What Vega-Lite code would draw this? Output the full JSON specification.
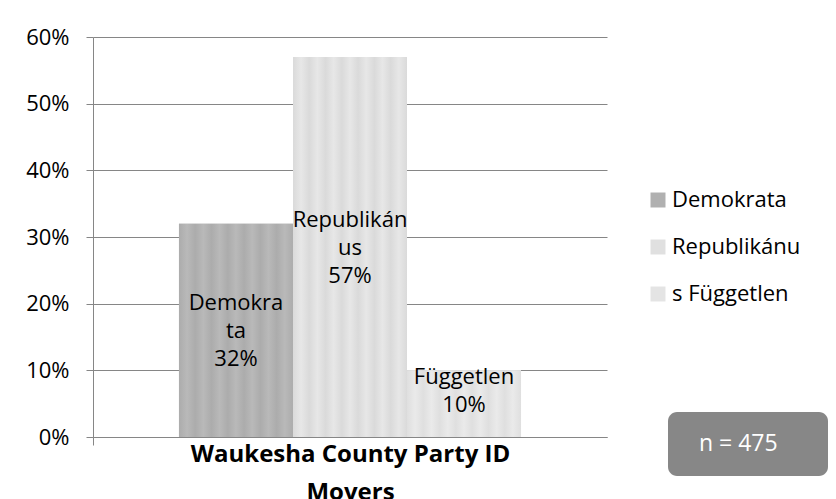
{
  "$schema": "https://vega.github.io/schema/vega-lite/v6.json",
  "width": 514,
  "height": 400,
  "autosize": {"type": "none"},
  "padding": {"left": 93, "top": 37, "right": 229, "bottom": 62},
  "background": "white",
  "config": {
    "font": "Open Sans",
    "view": {"stroke": null}
  },
  "datasets": {
    "parties": [
      {"group": "Waukesha County Party ID Movers", "party": "Demokrata", "wrapped": "Demokra\nta", "value": 0.32},
      {"group": "Waukesha County Party ID Movers", "party": "Republikánus", "wrapped": "Republikán\nus", "value": 0.57},
      {"group": "Waukesha County Party ID Movers", "party": "Független", "wrapped": "Független", "value": 0.10}
    ],
    "note": [
      {"note": "n = 475"}
    ]
  },
  "layer": [
    {
      "data": {"name": "parties"},
      "mark": {"type": "bar"},
      "encoding": {
        "x": {
          "field": "group", "type": "nominal",
          "scale": {"paddingInner": 0, "paddingOuter": 0},
          "axis": {
            "labels": false, "ticks": true, "tickSize": 8, "bandPosition": 0,
            "domainColor": "#868686", "tickColor": "#868686",
            "title": ["Waukesha County Party ID", "Movers"],
            "titleFontSize": 24, "titleFontWeight": "bold", "titleColor": "black",
            "titleLineHeight": 38, "titlePadding": -3
          }
        },
        "xOffset": {
          "field": "party", "type": "nominal",
          "sort": ["Demokrata", "Republikánus", "Független"],
          "scale": {"domain": ["Demokrata", "Republikánus", "Független"], "paddingInner": 0, "paddingOuter": 0.754}
        },
        "y": {
          "field": "value", "type": "quantitative",
          "scale": {"domain": [0, 0.6]},
          "axis": {
            "format": ".0%", "values": [0, 0.1, 0.2, 0.3, 0.4, 0.5, 0.6],
            "title": null, "tickSize": 7, "labelPadding": 17,
            "labelFontSize": 22, "labelColor": "black",
            "gridColor": "#868686", "domainColor": "#868686", "tickColor": "#868686"
          }
        },
        "color": {
          "field": "party", "type": "nominal",
          "scale": {"domain": ["Demokrata", "Republikánus", "Független"], "range": ["#b0b0b0", "#e0e0e0", "#e4e4e4"]},
          "legend": {
            "title": null, "orient": "none", "legendX": 554, "legendY": 152,
            "symbolType": "square", "symbolSize": 225, "symbolStrokeWidth": 0,
            "labelFontSize": 22, "labelColor": "black", "labelOffset": 3,
            "rowPadding": 25, "padding": 0, "labelLimit": 300,
            "labelExpr": "datum.label == 'Republikánus' ? 'Republikánu' : datum.label == 'Független' ? 's Független' : datum.label"
          }
        }
      }
    },
    {
      "data": {"name": "parties"},
      "transform": [{"filter": "datum.party == 'Demokrata'"}],
      "mark": {"type": "bar", "fill": {"gradient": "linear", "x1": 0, "y1": 0, "x2": 1, "y2": 0, "stops": [
        {"offset": 0, "color": "#acacac"}, {"offset": 0.0714, "color": "#b9b9b9"},
        {"offset": 0.1429, "color": "#acacac"}, {"offset": 0.2143, "color": "#b9b9b9"},
        {"offset": 0.2857, "color": "#acacac"}, {"offset": 0.3571, "color": "#b9b9b9"},
        {"offset": 0.4286, "color": "#acacac"}, {"offset": 0.5, "color": "#b9b9b9"},
        {"offset": 0.5714, "color": "#acacac"}, {"offset": 0.6429, "color": "#b9b9b9"},
        {"offset": 0.7143, "color": "#acacac"}, {"offset": 0.7857, "color": "#b9b9b9"},
        {"offset": 0.8571, "color": "#acacac"}, {"offset": 0.9286, "color": "#b9b9b9"},
        {"offset": 1, "color": "#acacac"}
      ]}},
      "encoding": {
        "x": {"field": "group", "type": "nominal"},
        "xOffset": {"field": "party", "type": "nominal"},
        "y": {"field": "value", "type": "quantitative"}
      }
    },
    {
      "data": {"name": "parties"},
      "transform": [{"filter": "datum.party == 'Republikánus'"}],
      "mark": {"type": "bar", "fill": {"gradient": "linear", "x1": 0, "y1": 0, "x2": 1, "y2": 0, "stops": [
        {"offset": 0, "color": "#dadada"}, {"offset": 0.0714, "color": "#e7e7e7"},
        {"offset": 0.1429, "color": "#dadada"}, {"offset": 0.2143, "color": "#e7e7e7"},
        {"offset": 0.2857, "color": "#dadada"}, {"offset": 0.3571, "color": "#e7e7e7"},
        {"offset": 0.4286, "color": "#dadada"}, {"offset": 0.5, "color": "#e7e7e7"},
        {"offset": 0.5714, "color": "#dadada"}, {"offset": 0.6429, "color": "#e7e7e7"},
        {"offset": 0.7143, "color": "#dadada"}, {"offset": 0.7857, "color": "#e7e7e7"},
        {"offset": 0.8571, "color": "#dadada"}, {"offset": 0.9286, "color": "#e7e7e7"},
        {"offset": 1, "color": "#dadada"}
      ]}},
      "encoding": {
        "x": {"field": "group", "type": "nominal"},
        "xOffset": {"field": "party", "type": "nominal"},
        "y": {"field": "value", "type": "quantitative"}
      }
    },
    {
      "data": {"name": "parties"},
      "transform": [{"filter": "datum.party == 'Független'"}],
      "mark": {"type": "bar", "fill": {"gradient": "linear", "x1": 0, "y1": 0, "x2": 1, "y2": 0, "stops": [
        {"offset": 0, "color": "#dfdfdf"}, {"offset": 0.0714, "color": "#eaeaea"},
        {"offset": 0.1429, "color": "#dfdfdf"}, {"offset": 0.2143, "color": "#eaeaea"},
        {"offset": 0.2857, "color": "#dfdfdf"}, {"offset": 0.3571, "color": "#eaeaea"},
        {"offset": 0.4286, "color": "#dfdfdf"}, {"offset": 0.5, "color": "#eaeaea"},
        {"offset": 0.5714, "color": "#dfdfdf"}, {"offset": 0.6429, "color": "#eaeaea"},
        {"offset": 0.7143, "color": "#dfdfdf"}, {"offset": 0.7857, "color": "#eaeaea"},
        {"offset": 0.8571, "color": "#dfdfdf"}, {"offset": 0.9286, "color": "#eaeaea"},
        {"offset": 1, "color": "#dfdfdf"}
      ]}},
      "encoding": {
        "x": {"field": "group", "type": "nominal"},
        "xOffset": {"field": "party", "type": "nominal"},
        "y": {"field": "value", "type": "quantitative"}
      }
    },
    {
      "data": {"name": "parties"},
      "transform": [
        {"calculate": "datum.value / 2", "as": "mid"},
        {"calculate": "datum.wrapped + '\\n' + format(datum.value, '.0%')", "as": "label"}
      ],
      "mark": {"type": "text", "fontSize": 22, "lineHeight": 28, "lineBreak": "\n", "baseline": "middle", "dy": -27, "color": "black"},
      "encoding": {
        "x": {"field": "group", "type": "nominal"},
        "xOffset": {"field": "party", "type": "nominal"},
        "y": {"field": "mid", "type": "quantitative"},
        "text": {"field": "label"}
      }
    },
    {
      "data": {"name": "note"},
      "mark": {"type": "point", "opacity": 0},
      "encoding": {
        "shape": {
          "field": "note", "type": "nominal",
          "legend": {
            "title": null, "orient": "none", "legendX": 575, "legendY": 375,
            "fillColor": "#878787", "cornerRadius": 9, "padding": 20,
            "symbolSize": 0, "symbolOpacity": 0, "labelOffset": -12,
            "labelFontSize": 23, "labelColor": "white", "labelLimit": 300,
            "labelExpr": "datum.label + '\u00a0\u00a0\u00a0\u00a0\u00a0\u200b'"
          }
        }
      }
    }
  ]
}
